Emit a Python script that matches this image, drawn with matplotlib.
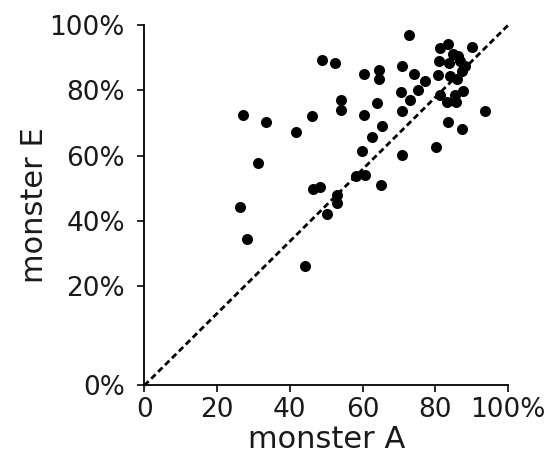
import numpy as np
import matplotlib
matplotlib.use("Agg")
import matplotlib.pyplot as plt

# share of each item, monster A vs monster E (%)
monster_a = [27.0, 33.3, 31.2, 26.4, 28.1, 41.6, 46.0, 48.8, 52.3, 53.9,
             53.9, 46.4, 48.2, 44.1, 50.3, 53.0, 53.0, 58.2, 60.5, 64.9,
             59.9, 62.6, 65.4, 60.4, 63.8, 60.4, 64.5, 64.5, 72.8, 70.7,
             74.1, 77.1, 70.5, 75.1, 73.0, 70.9, 70.9, 80.1, 83.5, 87.3,
             93.6, 89.9, 81.2, 83.5, 84.9, 86.3, 81.0, 83.8, 86.7, 88.1,
             87.2, 80.8, 84.0, 85.8, 81.2, 83.1, 85.6, 85.4, 87.5]
monster_e = [72.3, 70.3, 57.8, 44.4, 34.6, 67.4, 72.2, 89.2, 88.4, 77.0,
             73.9, 49.7, 50.3, 26.2, 42.2, 48.0, 45.5, 53.7, 54.2, 51.1,
             61.5, 65.8, 69.0, 72.5, 76.2, 85.0, 86.3, 83.5, 96.8, 87.6,
             84.9, 82.8, 79.5, 80.1, 76.9, 73.6, 60.1, 62.6, 70.3, 68.1,
             73.6, 93.3, 93.0, 94.3, 91.2, 90.4, 89.1, 88.4, 88.9, 87.4,
             85.8, 84.8, 84.3, 83.6, 78.7, 76.5, 76.5, 78.5, 79.9]

x_ticks = [0, 20, 40, 60, 80, 100]
x_labels = ["0", "20", "40", "60", "80", "100%"]
y_ticks = [0, 20, 40, 60, 80, 100]
y_labels = ["0%", "20%", "40%", "60%", "80%", "100%"]

# the original y axis gives more room to 0-20% than to the other bands
k = 99 / 65.25


def fwd(v):
    v = np.asarray(v, dtype=float)
    return np.where(v < 20, v * k, 20 * k + (v - 20))


def inv(p):
    p = np.asarray(p, dtype=float)
    return np.where(p < 20 * k, p / k, p - 20 * k + 20)


plt.rcParams["font.family"] = "DejaVu Sans"
fig = plt.figure(figsize=(5.54, 4.63), dpi=100)
ax = fig.add_axes([0.2605, 0.1674, 0.657, 0.7786])

ax.set_yscale("function", functions=(fwd, inv))
ax.set_xlim(0, 100)
ax.set_ylim(0, 100)

# identity line, corner to corner
ax.plot([0, 1], [0, 1], transform=ax.transAxes, color="black",
        linestyle=(0, (2.2, 1.3)), linewidth=2.0, clip_on=False)
ax.scatter(monster_a, monster_e, s=48, color="black", zorder=3, clip_on=False)

ax.set_xticks(x_ticks)
ax.set_xticklabels(x_labels)
ax.set_yticks(y_ticks)
ax.set_yticklabels(y_labels)
ax.minorticks_off()

for side in ["top", "right"]:
    ax.spines[side].set_visible(False)
for side in ["left", "bottom"]:
    ax.spines[side].set_linewidth(1.3)
ax.tick_params(axis="both", direction="out", length=5, width=1.3,
               labelsize=19, colors="#1a1a1a")
ax.tick_params(axis="y", pad=9)
ax.tick_params(axis="x", pad=3)

ax.set_xlabel("monster A", fontsize=22, labelpad=2, color="#1a1a1a")
ax.set_ylabel("monster E", fontsize=22, labelpad=0, color="#1a1a1a")

fig.savefig("out.png", dpi=100)
